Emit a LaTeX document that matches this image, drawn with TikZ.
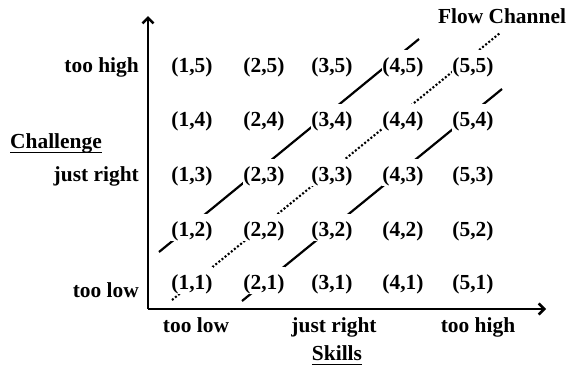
\documentclass[tikz,border=0pt]{standalone}
\usepackage{fontspec}
\setmainfont{Liberation Serif}
\usetikzlibrary{arrows.meta}
\begin{document}
\begin{tikzpicture}[x=1bp,y=-1bp,
  txt/.style={font=\bfseries\fontsize{21.5}{25}\selectfont, inner sep=0pt, anchor=base},
  cell/.style={txt, fill=white, text height=22bp, text depth=5bp},
  axis/.style={line width=2.6bp, -{Straight Barb[length=5.5bp,width=11bp]}},
  chan/.style={line width=2.2bp},
  flow/.style={line width=2.1bp, dash pattern=on 2bp off 2bp},
  uline/.style={line width=1.3bp}]
\useasboundingbox (0,0) rectangle (568,371);
% axes
\coordinate (O) at (148,309);
\coordinate (ytip) at (148,16);
\coordinate (xtip) at (546,309);
\draw[axis] (O) -- (ytip);
\draw[axis] (O) -- (xtip);
% channel lines
\coordinate (u1) at (159,252);
\coordinate (u2) at (419,39);
\coordinate (d1) at (172,300);
\coordinate (d2) at (500,33);
\coordinate (l1) at (242,301);
\coordinate (l2) at (502,89);
\draw[chan] (u1) -- (u2);
\draw[flow] (d1) -- (d2);
\draw[chan] (l1) -- (l2);
% grid cells
\foreach \i/\x in {1/192,2/264,3/332,4/403,5/473}{
  \foreach \j/\y in {1/289,2/236,3/181,4/126,5/72}{
    \node[cell] (c\i\j) at (\x,\y) {(\i,\j)};
  }
}
% left labels
\node[txt, anchor=base east] (th) at (139,72) {too high};
\node[txt, anchor=base east] (jr) at (139,181) {just right};
\node[txt, anchor=base east] (tl) at (139,297) {too low};
\node[txt, anchor=base west] (chal) at (10,148) {Challenge};
\draw[uline] ([yshift=-4.5bp]chal.base west) -- ([yshift=-4.5bp]chal.base east);
% bottom labels
\node[txt] (btl) at (196,332) {too low};
\node[txt] (bjr) at (334,332) {just right};
\node[txt] (bth) at (478,332) {too high};
\node[txt] (sk) at (337,360) {Skills};
\draw[uline] ([yshift=-4.5bp]sk.base west) -- ([yshift=-4.5bp]sk.base east);
% flow channel label
\node[txt] (fc) at (502,23) {Flow Channel};
\end{tikzpicture}
\end{document}
